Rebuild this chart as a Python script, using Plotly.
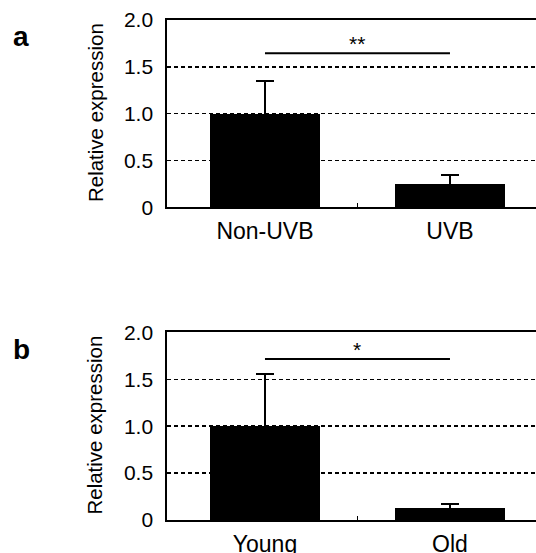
import plotly.graph_objects as go

# ---- data ----
categories_a = ["Non-UVB", "UVB"]
values_a = [1.0, 0.25]
errors_a = [0.35, 0.09]
sig_text_a = "**"
sig_level_a = 1.645

categories_b = ["Young", "Old"]
values_b = [1.0, 0.125]
errors_b = [0.555, 0.05]
sig_text_b = "*"
sig_level_b = 1.715

y_tickvals = [0, 0.5, 1.0, 1.5, 2.0]
y_ticktext = ["0", "0.5", "1.0", "1.5", "2.0"]
panel_labels = ["a", "b"]
y_title = "Relative expression"

FONT = "Liberation Sans, Arial, sans-serif"
W, H = 536, 553

panels = [
    dict(cats=categories_a, vals=values_a, errs=errors_a, sig=sig_text_a,
         lvl=sig_level_a, label=panel_labels[0], top=20.0, bottom=207.3, ax=""),
    dict(cats=categories_b, vals=values_b, errs=errors_b, sig=sig_text_b,
         lvl=sig_level_b, label=panel_labels[1], top=332.3, bottom=520.0, ax="2"),
]

fig = go.Figure()
annotations = []
shapes = []
layout_axes = {}

x_left_px = 167.3
xdom = [x_left_px / W, 1.0]

for p in panels:
    ax = p["ax"]
    xs = list(range(len(p["cats"])))
    fig.add_trace(go.Bar(
        x=xs, y=p["vals"], width=0.59,
        marker=dict(color="black", line=dict(width=0)),
        error_y=dict(type="data", symmetric=True, array=p["errs"],
                     color="black", thickness=2, width=9),
        xaxis="x" + ax, yaxis="y" + ax, showlegend=False,
        hoverinfo="skip",
    ))
    ydom = [1 - p["bottom"] / H, 1 - p["top"] / H]
    layout_axes["xaxis" + ax] = dict(
        domain=xdom, anchor="y" + ax, range=[-0.528, 1.465],
        tickmode="array", tickvals=xs, ticktext=p["cats"],
        ticks="", showgrid=False, zeroline=False,
        showline=True, linecolor="black", linewidth=2, mirror=True,
        tickfont=dict(family=FONT, size=23, color="black"),
        ticklabelstandoff=2,
        minor=dict(tickvals=[0.5], ticks="inside", ticklen=4,
                   tickwidth=1.5, tickcolor="black", showgrid=False),
        fixedrange=True,
    )
    layout_axes["yaxis" + ax] = dict(
        domain=ydom, anchor="x" + ax, range=[0, 2.0],
        tickmode="array", tickvals=y_tickvals, ticktext=y_ticktext,
        ticks="", showgrid=True, gridcolor="black", gridwidth=1.4,
        griddash="4px,3px", zeroline=False,
        showline=True, linecolor="black", linewidth=2, mirror=False,
        tickfont=dict(family=FONT, size=21, color="black"),
        ticklabelstandoff=8,
        fixedrange=True,
    )
    shapes.append(dict(type="line", xref="x" + ax, yref="y" + ax,
                       x0=xs[0], x1=xs[-1], y0=p["lvl"], y1=p["lvl"],
                       line=dict(color="black", width=2)))
    annotations.append(dict(xref="x" + ax, yref="y" + ax,
                            x=(xs[0] + xs[-1]) / 2, y=p["lvl"],
                            text=p["sig"], showarrow=False,
                            xanchor="center", yanchor="bottom", yshift=-4,
                            font=dict(family=FONT, size=21, color="black")))
    mid_px = (p["top"] + p["bottom"]) / 2 - 0.6
    annotations.append(dict(xref="paper", yref="paper",
                            x=95 / W, y=1 - mid_px / H,
                            text=y_title, textangle=-90, showarrow=False,
                            xanchor="center", yanchor="middle",
                            font=dict(family=FONT, size=20.5, color="black")))
    annotations.append(dict(xref="paper", yref="paper",
                            x=21 / W, y=1 - (p["top"] + 17) / H,
                            text="<b>" + p["label"] + "</b>", showarrow=False,
                            xanchor="center", yanchor="middle",
                            font=dict(family=FONT, size=28, color="black")))

fig.update_layout(
    width=W, height=H, template="none",
    margin=dict(l=0, r=0, t=0, b=0),
    paper_bgcolor="white", plot_bgcolor="white",
    annotations=annotations, shapes=shapes,
    bargap=0, **layout_axes,
)

fig.write_html(
    "out.html",
    config={"displayModeBar": False, "staticPlot": True},
    post_script="document.body.style.margin='0';document.body.style.overflow='hidden';",
)
